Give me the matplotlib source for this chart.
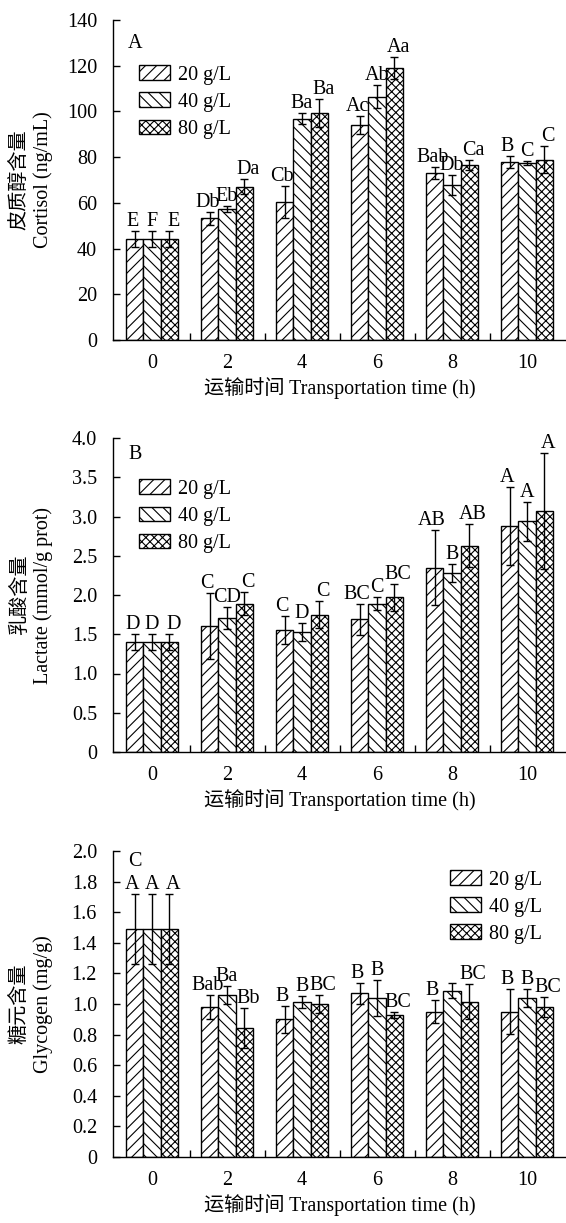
import matplotlib
matplotlib.use("Agg")
import matplotlib.pyplot as plt
import numpy as np

plt.rcParams['font.family'] = ['Liberation Serif', 'Noto Sans CJK SC']
plt.rcParams['hatch.linewidth'] = 0.8

times = ['0', '2', '4', '6', '8', '10']
series = ['20 g/L', '40 g/L', '80 g/L']
hatches = ['///', '\\\\\\', 'xxxx']

# Panel A: cortisol (ng/mL)
cort_mean = [[44.2, 53.2, 60.5, 94.1, 73.2, 77.7],
             [44.2, 57.3, 96.8, 106.5, 67.7, 77.5],
             [44.2, 67.1, 99.2, 119.0, 76.4, 78.9]]
cort_err = [[3.4, 2.8, 7.0, 3.9, 2.7, 2.6],
            [3.4, 1.5, 2.3, 5.0, 4.4, 1.0],
            [3.4, 3.4, 6.2, 4.7, 2.2, 6.0]]
cort_lab = [['E', 'Db', 'Cb', 'Ac', 'Bab', 'B'],
            ['F', 'Eb', 'Ba', 'Ab', 'Db', 'C'],
            ['E', 'Da', 'Ba', 'Aa', 'Ca', 'C']]

# Panel B: lactate (mmol/g prot)
lac_mean = [[1.40, 1.60, 1.55, 1.69, 2.35, 2.88],
            [1.40, 1.71, 1.53, 1.89, 2.28, 2.94],
            [1.40, 1.89, 1.75, 1.97, 2.63, 3.07]]
lac_err = [[0.10, 0.42, 0.18, 0.20, 0.48, 0.50],
           [0.10, 0.14, 0.11, 0.085, 0.11, 0.25],
           [0.10, 0.15, 0.17, 0.17, 0.27, 0.74]]
lac_lab = [['D', 'C', 'C', 'BC', 'AB', 'A'],
           ['D', 'CD', 'D', 'C', 'B', 'A'],
           ['D', 'C', 'C', 'BC', 'AB', 'A']]

# Panel C: glycogen (mg/g)
gly_mean = [[1.49, 0.98, 0.90, 1.07, 0.95, 0.95],
            [1.49, 1.06, 1.015, 1.04, 1.087, 1.04],
            [1.49, 0.845, 0.998, 0.93, 1.015, 0.978]]
gly_err = [[0.23, 0.08, 0.09, 0.07, 0.074, 0.145],
           [0.23, 0.06, 0.04, 0.12, 0.047, 0.058],
           [0.23, 0.13, 0.06, 0.02, 0.114, 0.065]]
gly_lab = [['A', 'Bab', 'B', 'B', 'B', 'B'],
           ['A', 'Ba', 'B', 'B', '', 'B'],
           ['A', 'Bb', 'BC', 'BC', 'BC', 'BC']]

W, H = 566, 1223
fig = plt.figure(figsize=(W / 100, H / 100), dpi=100)

FS = 14.5

def fx(px):
    return px / W

def fy(py):
    return 1 - py / H

panels = [
    dict(top=20, bot=340, mean=cort_mean, err=cort_err, lab=cort_lab,
         ymax=140, yticks=np.arange(0, 141, 20), fmt='{:.0f}', letter='A',
         lety=0.928, ylab='皮质醇含量\nCortisol (ng/mL)',
         loc='upper left', anchor=(0.057, 0.858)),
    dict(top=438, bot=752, mean=lac_mean, err=lac_err, lab=lac_lab,
         ymax=4.0, yticks=np.arange(0, 4.01, 0.5), fmt='{:.1f}', letter='B',
         lety=0.949, ylab='乳酸含量\nLactate (mmol/g prot)',
         loc='upper left', anchor=(0.057, 0.868)),
    dict(top=851, bot=1157, mean=gly_mean, err=gly_err, lab=gly_lab,
         ymax=2.0, yticks=np.arange(0, 2.01, 0.2), fmt='{:.1f}', letter='C',
         lety=0.967, ylab='糖元含量\nGlycogen (mg/g)',
         loc='upper right', anchor=(0.947, 0.937)),
]

x = np.arange(len(times))
bw = 0.227
lab_dx = [-2.0, 0.0, 3.0]  # points
for p in panels:
    ax = fig.add_axes([fx(113), fy(p['bot']), 1 - fx(113), (p['bot'] - p['top']) / H])
    handles = []
    for i in range(3):
        xs = x + (i - 1) * bw
        b = ax.bar(xs, p['mean'][i], bw, facecolor='white', edgecolor='black',
                   linewidth=1.0, hatch=hatches[i], label=series[i], zorder=2)
        handles.append(b)
        ax.errorbar(xs, p['mean'][i], yerr=p['err'][i], fmt='none', ecolor='black',
                    elinewidth=1.0, capsize=3.0, capthick=1.0, zorder=3)
        for j in range(len(times)):
            if not p['lab'][i][j]:
                continue
            ax.annotate(p['lab'][i][j], (xs[j], p['mean'][i][j] + p['err'][i][j]),
                        xytext=(lab_dx[i], 0), textcoords='offset points',
                        ha='center', va='bottom', fontsize=FS, zorder=4)
    ax.set_xlim(-0.52, 5.52)
    ax.set_ylim(0, p['ymax'])
    ax.set_yticks(p['yticks'])
    ax.set_yticklabels([p['fmt'].format(v) if v != 0 else '0' for v in p['yticks']])
    ax.set_xticks(x)
    ax.set_xticklabels(times)
    ax.set_xticks(x[:-1] + 0.5, minor=True)
    ax.tick_params(axis='x', which='major', length=0, pad=10, labelsize=FS)
    ax.tick_params(axis='x', which='minor', direction='in', length=5, width=1)
    ax.tick_params(axis='y', direction='in', length=5, width=1, pad=11.5, labelsize=FS)
    for s in ['top', 'right']:
        ax.spines[s].set_visible(False)
    for s in ['left', 'bottom']:
        ax.spines[s].set_linewidth(1.0)
    ax.set_xlabel('运输时间 Transportation time (h)', fontsize=FS, labelpad=3)
    ax.text(0.033, p['lety'], p['letter'], transform=ax.transAxes, fontsize=FS,
            ha='left', va='center')
    fig.text(fx(32), fy((p['top'] + p['bot']) / 2), p['ylab'], rotation=90,
             ha='center', va='center', fontsize=FS, linespacing=1.25,
             multialignment='center')
    ax.legend(handles=handles, loc=p['loc'], bbox_to_anchor=p['anchor'], frameon=False,
              fontsize=FS, handlelength=1.55, handleheight=0.75, labelspacing=0.38,
              handletextpad=0.4, borderaxespad=0, borderpad=0)

fig.savefig('out.png', dpi=100)
